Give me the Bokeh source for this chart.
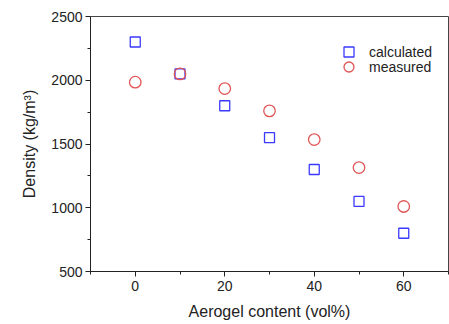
from bokeh.plotting import figure
from bokeh.models import Range1d, Legend, LegendItem, FixedTicker
from bokeh.embed import file_html
from bokeh.resources import INLINE

aerogel = [0, 10, 20, 30, 40, 50, 60]
calculated = [2300, 2050, 1800, 1550, 1300, 1050, 800]
measured = [1985, 2050, 1935, 1760, 1535, 1315, 1010]

x_ticks = [0, 20, 40, 60]
y_ticks = [500, 1000, 1500, 2000, 2500]

p = figure(width=449, height=324, output_backend="svg", toolbar_location=None,
           x_range=Range1d(-10, 70), y_range=Range1d(500, 2500),
           min_border_left=90, min_border_right=1, min_border_top=16, min_border_bottom=53)
p.grid.visible = False
p.outline_line_color = "#444444"
p.outline_line_width = 1

FONT = "Liberation Sans"
for ax in (p.xaxis[0], p.yaxis[0]):
    ax.axis_line_color = "#222222"
    ax.major_tick_line_color = "#222222"
    ax.minor_tick_line_color = "#222222"
    ax.major_tick_out = 5
    ax.major_tick_in = 0
    ax.minor_tick_out = 3
    ax.minor_tick_in = 0
    ax.major_label_text_font = FONT
    ax.major_label_text_font_size = "14px"
    ax.major_label_text_color = "#222222"
    ax.axis_label_text_font = FONT
    ax.axis_label_text_font_size = "16px"
    ax.axis_label_text_font_style = "normal"
    ax.axis_label_text_color = "#222222"

p.xaxis.ticker = FixedTicker(ticks=x_ticks, minor_ticks=[-10, 10, 30, 50, 70])
p.yaxis.ticker = FixedTicker(ticks=y_ticks, minor_ticks=[750, 1250, 1750, 2250])
p.xaxis.axis_label = "Aerogel content (vol%)"
p.yaxis.axis_label = "Density (kg/m³)"
p.xaxis.major_label_standoff = 4
p.yaxis.major_label_standoff = 3
p.xaxis.axis_label_standoff = 9
p.yaxis.axis_label_standoff = 10

r1 = p.scatter(aerogel, calculated, marker="square", size=10, fill_color=None,
               line_color="#3a3aff", line_width=1.3)
r2 = p.scatter(aerogel, measured, marker="circle", size=11.5, fill_color=None,
               line_color="#e05555", line_width=1.3)

common = dict(border_line_color=None, background_fill_alpha=0,
              label_text_font=FONT, label_text_font_size="14px", label_text_color="#222222",
              glyph_width=25, glyph_height=25, spacing=0, padding=0, margin=0,
              label_standoff=8, label_height=14)
leg1 = Legend(items=[LegendItem(label="calculated", renderers=[r1])], **common)
leg1.location = (246, 207)
leg2 = Legend(items=[LegendItem(label="measured", renderers=[r2])], **common)
leg2.location = (246, 192)
p.add_layout(leg1)
p.add_layout(leg2)

open("out.html", "w").write(file_html(p, INLINE))
